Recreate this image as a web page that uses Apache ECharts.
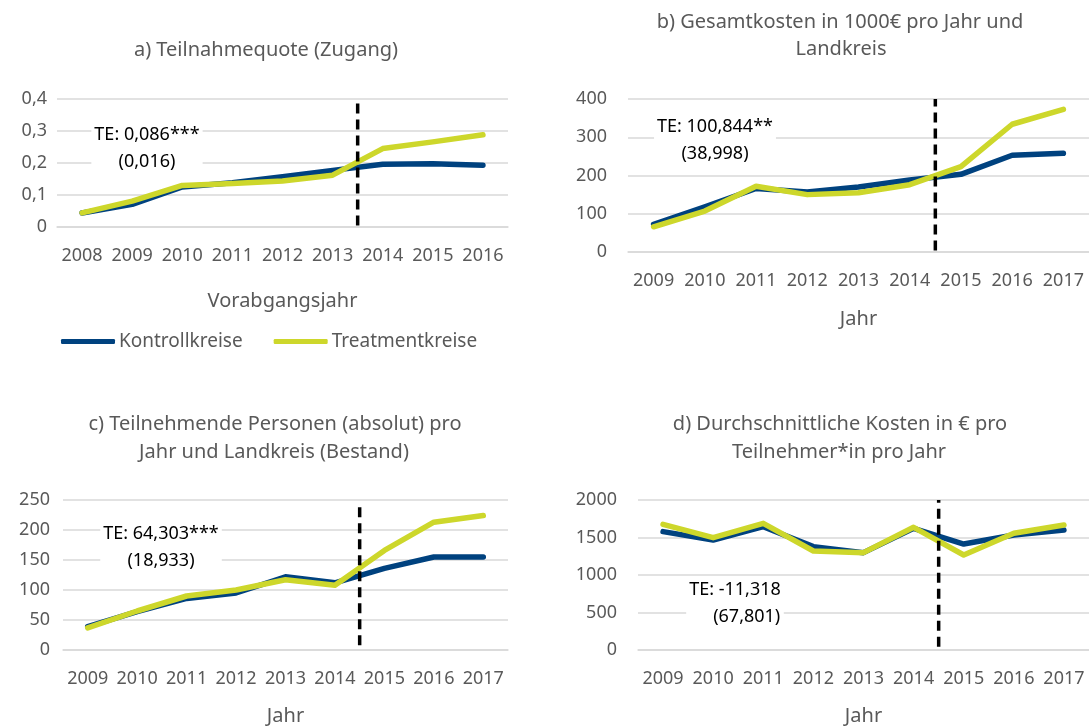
<!DOCTYPE html>
<html>
<head>
<meta charset="utf-8">
<script src="https://cdn.jsdelivr.net/npm/echarts@6/dist/echarts.min.js"></script>
<style>
  html, body { margin: 0; padding: 0; background: #fff; }
  #chart { width: 1089px; height: 726px; }
</style>
</head>
<body>
<div id="chart"></div>
<script>
// categories
var yearsA = ["2008", "2009", "2010", "2011", "2012", "2013", "2014", "2015", "2016"];
var yearsB = ["2009", "2010", "2011", "2012", "2013", "2014", "2015", "2016", "2017"];

// a) Teilnahmequote (Zugang)
var kontrollA = [0.044, 0.071, 0.125, 0.138, 0.157, 0.177, 0.196, 0.198, 0.193];
var treatA = [0.044, 0.081, 0.130, 0.136, 0.144, 0.162, 0.245, 0.266, 0.288];
// b) Gesamtkosten in 1000€
var kontrollB = [72, 118, 166, 157, 170, 188, 203, 253, 258];
var treatB = [66, 107, 172, 150, 155, 176, 223, 334, 373];
// c) Teilnehmende Personen
var kontrollC = [39, 64, 86, 95, 122, 112, 136, 155, 155];
var treatC = [37, 65, 90, 100, 117, 108, 166, 213, 224];
// d) Durchschnittliche Kosten
var kontrollD = [1578, 1467, 1644, 1378, 1298, 1622, 1413, 1533, 1600];
var treatD = [1676, 1498, 1689, 1320, 1298, 1636, 1267, 1556, 1667];

// treatment start (between category index 5 and 6) and dashed line extents
var cutoff = 5.5;
var dashA = [0.005, 0.386];
var dashB = [4, 400];
var dashC = [8, 244];
var dashD = [44, 2000];

// y axis ranges
var yMax = [0.4, 400, 250, 2000];
var yStep = [0.1, 100, 50, 500];

var blue = "#00427f";
var lime = "#cdd72b";
var grey = "#595959";
var font = "Noto Sans";

var chart = echarts.init(document.getElementById("chart"));

var grids = [
  { left: 57, top: 99, width: 451, height: 128 },
  { left: 628, top: 99, width: 461, height: 153 },
  { left: 63, top: 500, width: 445, height: 150 },
  { left: 638, top: 500, width: 451, height: 150 }
].map(function (g) {
  g.containLabel = false;
  g.outerBoundsMode = "none";
  return g;
});
var cats = [yearsA, yearsB, yearsB, yearsB];
var names = ["Vorabgangsjahr", "Jahr", "Jahr", "Jahr"];
var nameGaps = [64, 57, 56, 56];
var yMargins = [10, 21, 13, 21];
var kontroll = [kontrollA, kontrollB, kontrollC, kontrollD];
var treat = [treatA, treatB, treatC, treatD];
var dashes = [dashA, dashB, dashC, dashD];

var xAxes = [], yAxes = [], series = [];
for (var i = 0; i < 4; i++) {
  xAxes.push({
    type: "category",
    gridIndex: i,
    data: cats[i],
    boundaryGap: true,
    name: names[i],
    nameLocation: "middle",
    nameGap: nameGaps[i],
    nameTextStyle: { color: grey, fontFamily: font, fontSize: 20 },
    axisLine: { lineStyle: { color: "#d9d9d9", width: 1.5 } },
    axisTick: { show: false },
    axisLabel: { color: grey, fontFamily: font, fontSize: 18, margin: 20, interval: 0 }
  });
  xAxes.push({
    type: "value",
    gridIndex: i,
    min: -0.5,
    max: 8.5,
    show: false
  });
  yAxes.push({
    type: "value",
    gridIndex: i,
    min: 0,
    max: yMax[i],
    interval: yStep[i],
    axisLine: { show: false },
    axisTick: { show: false },
    splitLine: { lineStyle: { color: "#d9d9d9", width: 1.5 } },
    axisLabel: {
      color: grey, fontFamily: font, fontSize: 18, margin: yMargins[i],
      formatter: function (v) { return String(+v.toFixed(2)).replace(".", ","); }
    }
  });
  series.push({
    name: "Kontrollkreise",
    type: "line",
    xAxisIndex: 2 * i,
    yAxisIndex: i,
    data: kontroll[i],
    symbol: "none",
    lineStyle: { color: blue, width: 5.5, cap: "round", join: "round" },
    itemStyle: { color: blue }
  });
  series.push({
    name: "Treatmentkreise",
    type: "line",
    xAxisIndex: 2 * i,
    yAxisIndex: i,
    data: treat[i],
    symbol: "none",
    lineStyle: { color: lime, width: 5.5, cap: "round", join: "round" },
    itemStyle: { color: lime }
  });
  series.push({
    name: "cut" + i,
    type: "line",
    xAxisIndex: 2 * i + 1,
    yAxisIndex: i,
    data: [[cutoff, dashes[i][0]], [cutoff, dashes[i][1]]],
    symbol: "none",
    silent: true,
    z: 5,
    lineStyle: { color: "#000", width: 3.5, type: [10, 6] }
  });
}

function title(x, y, s) {
  return {
    type: "text",
    x: x,
    y: y,
    style: {
      text: s,
      fill: grey,
      font: "20px " + font,
      textAlign: "center",
      textVerticalAlign: "middle"
    }
  };
}

function note(x, y, s) {
  return {
    type: "text",
    x: x,
    y: y,
    z: 10,
    style: {
      text: s,
      fill: "#000",
      font: "18px " + font,
      lineHeight: 27,
      textAlign: "center",
      textVerticalAlign: "middle",
      backgroundColor: "#fff",
      padding: [0, 3]
    }
  };
}

chart.setOption({
  animation: false,
  grid: grids,
  xAxis: xAxes,
  yAxis: yAxes,
  series: series,
  legend: {
    data: ["Kontrollkreise", "Treatmentkreise"],
    left: 61,
    top: 332,
    padding: 0,
    icon: "roundRect",
    itemWidth: 54,
    itemHeight: 5,
    itemGap: 31,
    textStyle: { color: grey, fontFamily: font, fontSize: 19, padding: [0, 0, 0, -1] }
  },
  graphic: [
    title(266, 50, "a) Teilnahmequote (Zugang)"),
    title(840, 22, "b) Gesamtkosten in 1000€ pro Jahr und"),
    title(841, 49, "Landkreis"),
    title(275, 424, "c) Teilnehmende Personen (absolut) pro"),
    title(274, 452, "Jahr und Landkreis (Bestand)"),
    title(840, 424, "d) Durchschnittliche Kosten in € pro"),
    title(839, 452, "Teilnehmer*in pro Jahr"),
    note(147, 148, "TE: 0,086***\n(0,016)"),
    note(715, 140, "TE: 100,844**\n(38,998)"),
    note(161, 547, "TE: 64,303***\n(18,933)"),
    note(735, 603, "TE: -11,318\n     (67,801)")
  ]
});
</script>
</body>
</html>
